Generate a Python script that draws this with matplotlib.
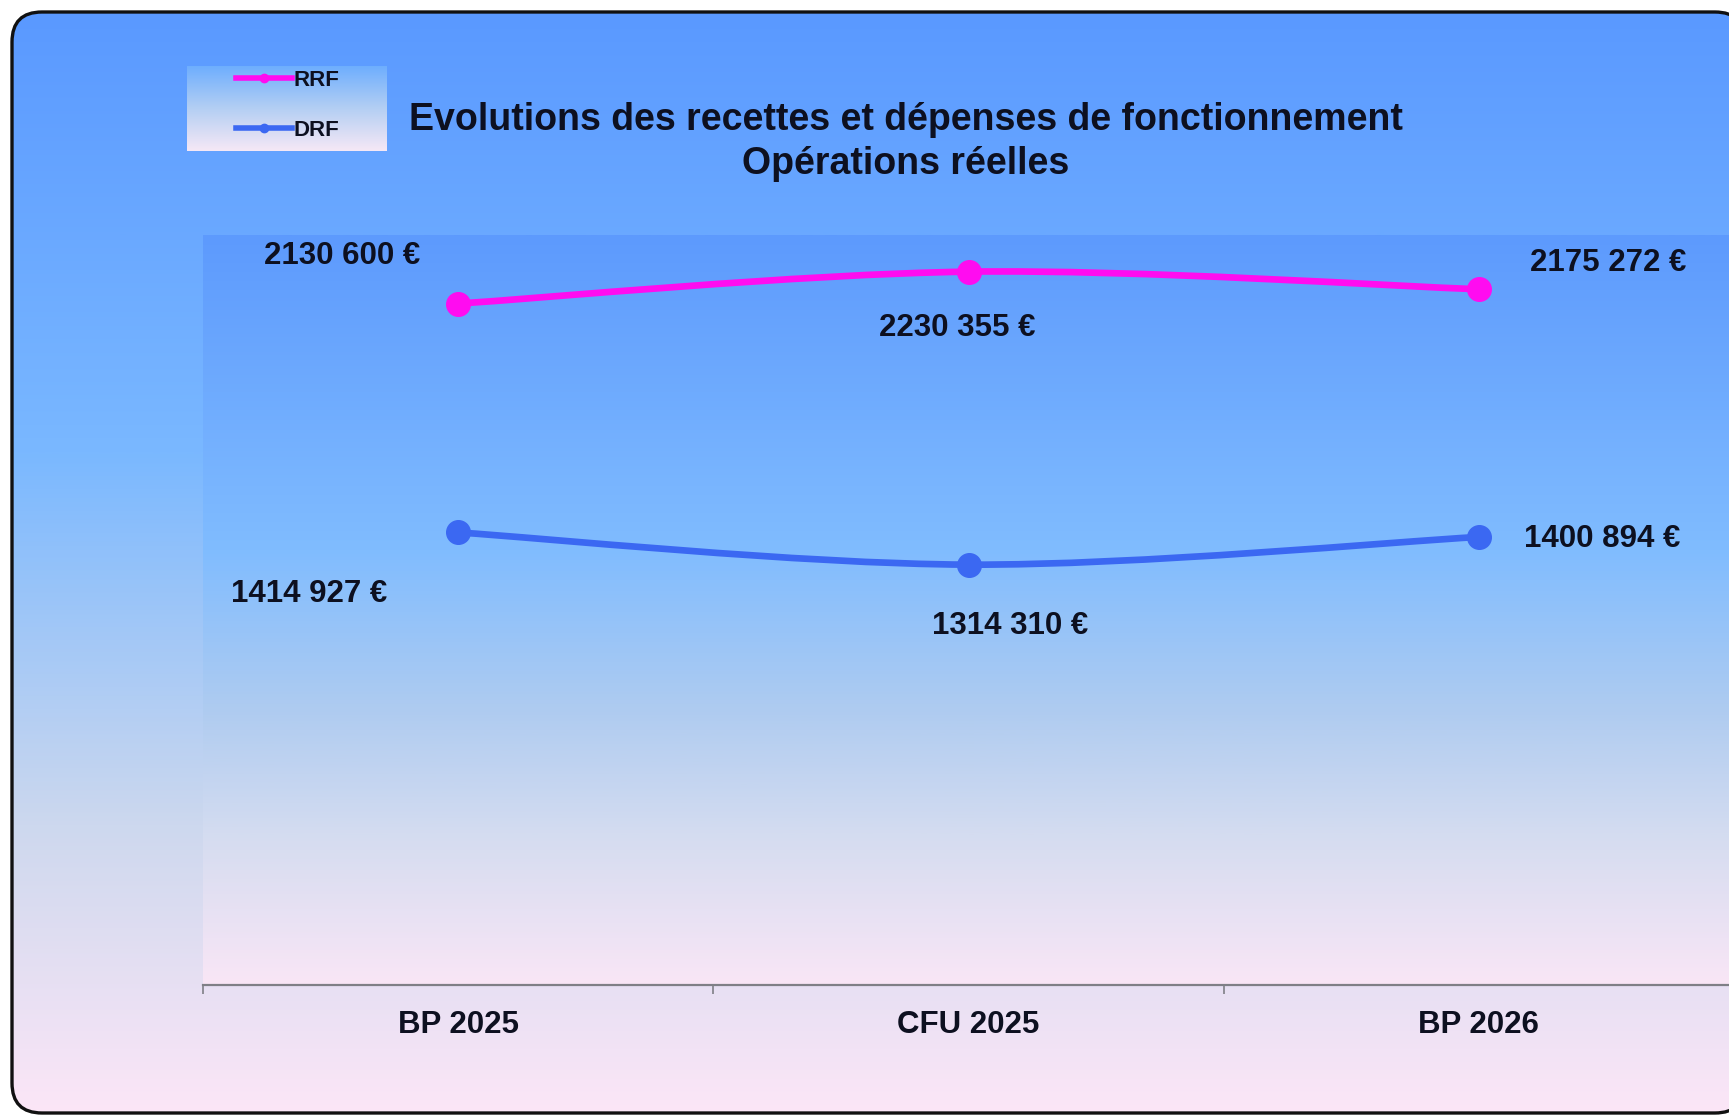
import matplotlib
matplotlib.use("Agg")
import matplotlib.pyplot as plt
import numpy as np
from matplotlib.colors import LinearSegmentedColormap
from matplotlib.lines import Line2D
from matplotlib.patches import FancyBboxPatch, PathPatch
from matplotlib.path import Path

plt.rcParams["font.family"] = ["Liberation Sans", "DejaVu Sans"]

# Données
categories = ["BP 2025", "CFU 2025", "BP 2026"]
rrf = [2130600, 2230355, 2175272]
drf = [1414927, 1314310, 1400894]
series_names = ["RRF", "DRF"]
title = "Evolutions des recettes et dépenses de fonctionnement\nOpérations réelles"

# Styles
colors = ["#ff0cf0", "#3b68f2"]
text_color = "#0d1020"
# décalages des étiquettes (pixels) par série / point
label_offsets = [
    [(-116, 48), (-11, -56), (129, 26)],
    [(-149, -62), (42, -61), (123, -2)],
]

W, H = 1729, 1115


def smooth_path(xs, ys):
    # courbe lissée type Excel (Bezier passant par les points)
    pts = list(zip(xs, ys))
    n = len(pts)
    verts = [pts[0]]
    codes = [Path.MOVETO]
    for i in range(n - 1):
        p0 = pts[i - 1] if i > 0 else pts[i]
        p1 = pts[i]
        p2 = pts[i + 1]
        p3 = pts[i + 2] if i + 2 < n else pts[i + 1]
        c1 = (p1[0] + (p2[0] - p0[0]) / 6, p1[1] + (p2[1] - p0[1]) / 6)
        c2 = (p2[0] - (p3[0] - p1[0]) / 6, p2[1] - (p3[1] - p1[1]) / 6)
        verts += [c1, c2, p2]
        codes += [Path.CURVE4] * 3
    return Path(verts, codes)


def fmt_euro(v):
    # format du tableur : "2130 600 €"
    return f"{v // 1000} {v % 1000:03d} €"


fig = plt.figure(figsize=(W / 100, H / 100), dpi=100)
fig.patch.set_facecolor("white")

# Fond général avec cadre arrondi
bg = fig.add_axes([0, 0, 1, 1], zorder=0)
grad = np.linspace(0, 1, 512).reshape(-1, 1)
outer_cmap = LinearSegmentedColormap.from_list(
    "outer", [(0, "#5a99ff"), (0.4, "#7ab8ff"), (0.74, "#cdd8ee"), (1, "#fce6f7")])
legend_cmap = LinearSegmentedColormap.from_list(
    "leg", [(0, "#6eaefe"), (0.5, "#b4cff3"), (1, "#f6e8f6")])
plot_cmap = LinearSegmentedColormap.from_list(
    "plot", [(0, "#5d9afd"), (0.42, "#80bcff"), (0.64, "#b0ccf0"), (0.8, "#d4dcf0"), (1, "#f9e6f6")])

# facecolor quasi transparente : évite le découpage des courbes hors figure par Agg
frame = FancyBboxPatch((12, 12), 1733, 1101, boxstyle="round,pad=0,rounding_size=30",
                       fc=(1, 1, 1, 0.003), ec="#111111", lw=2.4, zorder=3)
bg.add_patch(frame)
im = bg.imshow(grad, cmap=outer_cmap, aspect="auto", extent=(12, 1745, 1113, 12), zorder=1)
im.set_clip_path(frame)
bg.imshow(grad, cmap=legend_cmap, aspect="auto", extent=(187, 387, 151, 66), zorder=2)
bg.set_xlim(0, W)
bg.set_ylim(H, 0)
bg.axis("off")

# Zone de tracé
ax = fig.add_axes([203 / W, 130 / H, 1531 / W, 750 / H], zorder=1)
ax.patch.set_alpha(0)
ax.imshow(grad, cmap=plot_cmap, aspect="auto", extent=(0, 1, 0, 1),
          transform=ax.transAxes, zorder=0)

x = np.arange(len(categories))
handles = []
for vals, col, name in zip([rrf, drf], colors, series_names):
    ax.add_patch(PathPatch(smooth_path(x, vals), fc="none", ec=col, lw=4.8,
                           capstyle="round", zorder=2))
    ax.plot(x, vals, "o", color=col, ms=17, zorder=3)
    handles.append(Line2D([], [], color=col, lw=4, marker="o", ms=6))

for vals, offs in zip([rrf, drf], label_offsets):
    for xi, v, (dx, dy) in zip(x, vals, offs):
        ax.annotate(fmt_euro(v), (xi, v), xytext=(dx, dy), textcoords="offset pixels",
                    ha="center", va="center", fontsize=22.5, fontweight="bold",
                    color=text_color, zorder=4)

ax.set_xlim(-0.5, 2.5)
ax.set_ylim(0, 2345000)
for s in ["left", "right", "top"]:
    ax.spines[s].set_visible(False)
ax.spines["bottom"].set_color("#7f7f86")
ax.spines["bottom"].set_linewidth(1.6)
ax.set_yticks([])
ax.set_xticks([-0.5, 0.5, 1.5])
ax.set_xticklabels([])
ax.tick_params(axis="x", which="major", length=6.5, width=1.2, color="#7f7f86", direction="out")
ax.set_xticks(x, minor=True)
ax.set_xticklabels(categories, minor=True, fontsize=22.5, fontweight="bold", color=text_color)
ax.tick_params(axis="x", which="minor", length=0, pad=18)

# Titre
fig.text(906 / W, 1 - 142 / H, title, ha="center", va="center", fontsize=27,
         fontweight="bold", color=text_color, linespacing=1.25)

# Légende
fig.legend(handles, series_names, loc="upper left", bbox_to_anchor=(236 / W, 1 - 70 / H),
           frameon=False, borderpad=0, borderaxespad=0, handlelength=2.5,
           handletextpad=0.1, labelspacing=1.3,
           prop={"size": 16, "weight": "bold"}, labelcolor=text_color)

fig.savefig("out.png", dpi=100)
